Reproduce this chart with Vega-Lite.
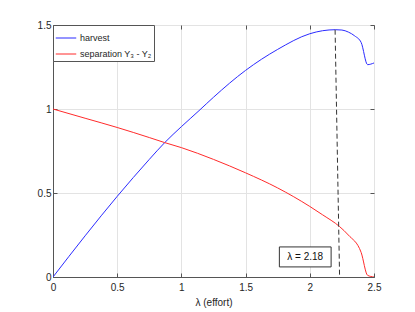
{
  "$schema": "https://vega.github.io/schema/vega-lite/v6.json",
  "width": 321,
  "height": 252,
  "autosize": {"type": "none"},
  "padding": {"left": 53, "top": 25, "right": 41, "bottom": 35},
  "background": "white",
  "config": {
    "font": "Liberation Sans",
    "view": {"stroke": "#555", "strokeWidth": 1},
    "axis": {
      "domainColor": "#555",
      "tickColor": "#555",
      "gridColor": "#e3e3e3",
      "labelColor": "#262626",
      "titleColor": "#262626",
      "labelFontSize": 10,
      "titleFontSize": 10,
      "titleFontWeight": "normal",
      "tickSize": -4
    }
  },
  "datasets": {
    "curves": [
      {"lambda": 0, "value": 0, "series": "harvest"},
      {"lambda": 0.25, "value": 0.245, "series": "harvest"},
      {"lambda": 0.5, "value": 0.48, "series": "harvest"},
      {"lambda": 0.75, "value": 0.70, "series": "harvest"},
      {"lambda": 0.87, "value": 0.80, "series": "harvest"},
      {"lambda": 1.0, "value": 0.895, "series": "harvest"},
      {"lambda": 1.137, "value": 0.99, "series": "harvest"},
      {"lambda": 1.25, "value": 1.07, "series": "harvest"},
      {"lambda": 1.5, "value": 1.23, "series": "harvest"},
      {"lambda": 1.75, "value": 1.355, "series": "harvest"},
      {"lambda": 2.0, "value": 1.448, "series": "harvest"},
      {"lambda": 2.1, "value": 1.466, "series": "harvest"},
      {"lambda": 2.2, "value": 1.472, "series": "harvest"},
      {"lambda": 2.25, "value": 1.47, "series": "harvest"},
      {"lambda": 2.3, "value": 1.458, "series": "harvest"},
      {"lambda": 2.35, "value": 1.435, "series": "harvest"},
      {"lambda": 2.4, "value": 1.396, "series": "harvest"},
      {"lambda": 2.45, "value": 1.264, "series": "harvest"},
      {"lambda": 2.5, "value": 1.274, "series": "harvest"},
      {"lambda": 0, "value": 1.0, "series": "separation"},
      {"lambda": 0.25, "value": 0.945, "series": "separation"},
      {"lambda": 0.5, "value": 0.89, "series": "separation"},
      {"lambda": 0.75, "value": 0.83, "series": "separation"},
      {"lambda": 0.87, "value": 0.80, "series": "separation"},
      {"lambda": 1.0, "value": 0.77, "series": "separation"},
      {"lambda": 1.25, "value": 0.70, "series": "separation"},
      {"lambda": 1.5, "value": 0.62, "series": "separation"},
      {"lambda": 1.75, "value": 0.53, "series": "separation"},
      {"lambda": 2.0, "value": 0.42, "series": "separation"},
      {"lambda": 2.1, "value": 0.37, "series": "separation"},
      {"lambda": 2.232, "value": 0.30, "series": "separation"},
      {"lambda": 2.3, "value": 0.25, "series": "separation"},
      {"lambda": 2.4, "value": 0.146, "series": "separation"},
      {"lambda": 2.45, "value": 0.01, "series": "separation"},
      {"lambda": 2.5, "value": 0, "series": "separation"}
    ],
    "marker": [
      {"lambda": 2.197, "value": 1.472},
      {"lambda": 2.232, "value": 0}
    ],
    "box": [
      {"x1": 1.763, "x2": 2.166, "y1": 0.06, "y2": 0.179, "xm": 1.9645, "ym": 0.1195, "label": "λ = 2.18"}
    ]
  },
  "layer": [
    {
      "data": {"name": "curves"},
      "mark": {"type": "line", "strokeWidth": 1, "clip": true, "interpolate": "monotone"},
      "encoding": {
        "x": {
          "field": "lambda", "type": "quantitative",
          "scale": {"domain": [0, 2.5], "nice": false},
          "axis": {"values": [0, 0.5, 1, 1.5, 2, 2.5], "format": "~g", "title": "λ (effort)", "labelPadding": 9, "titlePadding": 5, "labelFlush": false}
        },
        "y": {
          "field": "value", "type": "quantitative",
          "scale": {"domain": [0, 1.5], "nice": false},
          "axis": {"values": [0, 0.5, 1, 1.5], "format": "~g", "title": null, "labelPadding": 6, "labelFlush": false}
        },
        "color": {
          "field": "series", "type": "nominal",
          "scale": {"domain": ["harvest", "separation"], "range": ["#2b2bff", "#ff2b2b"]},
          "legend": {
            "title": null,
            "orient": "top-left",
            "offset": 0,
            "labelExpr": "datum.value == 'separation' ? 'separation Y₃ - Y₂' : datum.value",
            "symbolType": "stroke",
            "symbolSize": 420,
            "symbolStrokeWidth": 1,
            "labelFontSize": 9,
            "labelColor": "#262626",
            "strokeColor": "#555",
            "fillColor": "white",
            "padding": 2,
            "rowPadding": 0,
            "labelOffset": 3
          }
        }
      }
    },
    {
      "data": {"name": "marker"},
      "mark": {"type": "line", "color": "#333", "strokeWidth": 1, "strokeDash": [5, 3]},
      "encoding": {
        "x": {"field": "lambda", "type": "quantitative", "axis": null},
        "y": {"field": "value", "type": "quantitative", "axis": null}
      }
    },
    {
      "data": {"name": "box"},
      "mark": {"type": "rect", "fill": "white", "stroke": "#333", "strokeWidth": 1},
      "encoding": {
        "x": {"field": "x1", "type": "quantitative", "axis": null},
        "x2": {"field": "x2"},
        "y": {"field": "y1", "type": "quantitative", "axis": null},
        "y2": {"field": "y2"}
      }
    },
    {
      "data": {"name": "box"},
      "mark": {"type": "text", "fontSize": 10, "color": "#111", "align": "center", "baseline": "middle"},
      "encoding": {
        "x": {"field": "xm", "type": "quantitative", "axis": null},
        "y": {"field": "ym", "type": "quantitative", "axis": null},
        "text": {"field": "label"}
      }
    },
    {
      "data": {"name": "marker"},
      "mark": {"type": "point", "opacity": 0},
      "encoding": {
        "x": {"field": "lambda", "type": "quantitative", "axis": {"orient": "top", "values": [0, 0.5, 1, 1.5, 2, 2.5], "labels": false, "grid": false, "domain": false, "title": null}},
        "y": {"field": "value", "type": "quantitative", "axis": {"orient": "right", "values": [0, 0.5, 1, 1.5], "labels": false, "grid": false, "domain": false, "title": null}}
      }
    }
  ],
  "resolve": {"axis": {"x": "independent", "y": "independent"}}
}
